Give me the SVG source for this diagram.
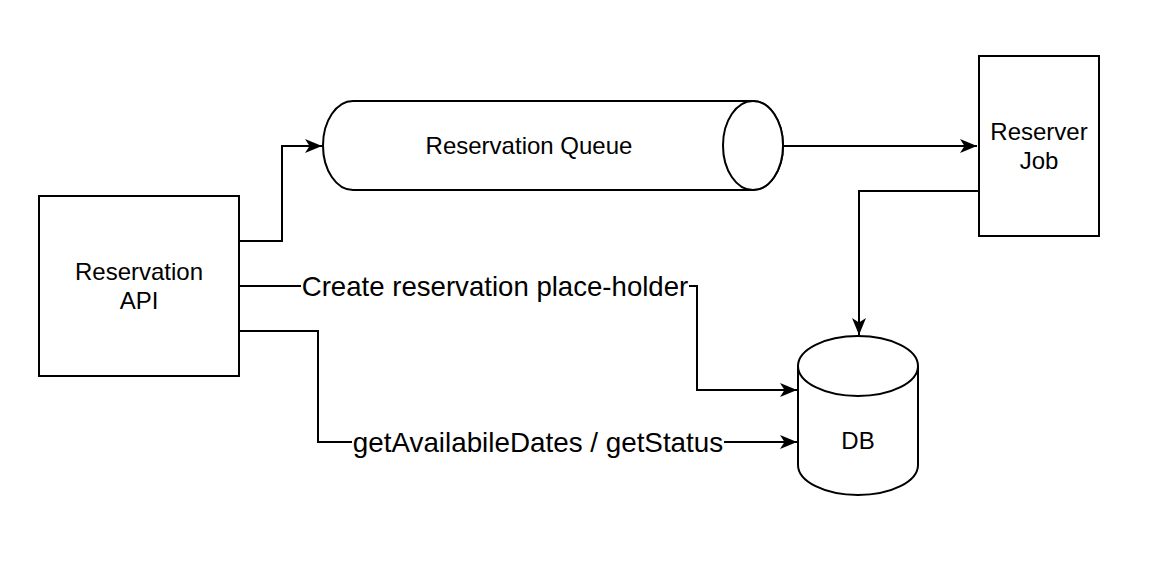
<svg xmlns="http://www.w3.org/2000/svg" width="1156" height="570" viewBox="0 0 1156 570">
<style>
.node{fill:#fff;stroke:#000;stroke-width:2}
.edge{fill:none;stroke:#000;stroke-width:2}
.t{font-family:"Liberation Sans",Arial,Helvetica,sans-serif;font-size:24px;fill:#000;text-anchor:middle}
.lbl{font-family:"Liberation Sans",Arial,Helvetica,sans-serif;font-size:27.6px;fill:#000;text-anchor:middle}
</style>
<defs>
<marker id="arr" markerUnits="userSpaceOnUse" markerWidth="18" markerHeight="16" refX="17" refY="7" orient="auto">
<path d="M0,0 L17,7 L0,14 L4.5,7 Z" fill="#000" stroke="none"/>
</marker>
</defs>
<rect width="1156" height="570" fill="#fff"/>
<g id="connectors">
<path class="edge" d="M239,241 H282 V146 H322" marker-end="url(#arr)"/>
<path class="edge" d="M783,146 H977" marker-end="url(#arr)"/>
<path class="edge" d="M978,191 H859 V335" marker-end="url(#arr)"/>
<path class="edge" d="M239,286 H697 V390 H797" marker-end="url(#arr)"/>
<path class="edge" d="M239,331 H318 V442 H797" marker-end="url(#arr)"/>
<g id="edge-labels">
<rect x="301" y="272" width="388" height="30" fill="#fff"/>
<text class="lbl" x="495" y="296">Create reservation place-holder</text>
<rect x="352" y="428" width="372" height="30" fill="#fff"/>
<text class="lbl" x="538" y="452" style="font-size:27.8px">getAvailabileDates / getStatus</text>
</g>
</g>
<g id="reservation-api">
<rect class="node" x="39" y="196" width="200" height="180"/>
<text class="t" x="139" y="280">Reservation</text>
<text class="t" x="139" y="309">API</text>
</g>
<g id="reservation-queue">
<path class="node" d="M353,101 H753 A30,44.5 0 0 1 753,190 H353 A30,44.5 0 0 1 353,101 Z"/>
<ellipse class="node" cx="753" cy="145.5" rx="30" ry="44.5"/>
<text class="t" x="529" y="154">Reservation Queue</text>
</g>
<g id="reserver-job">
<rect class="node" x="979" y="56" width="120" height="180"/>
<text class="t" x="1039" y="140">Reserver</text>
<text class="t" x="1039" y="169">Job</text>
</g>
<g id="db">
<path class="node" d="M798,366 A60,30 0 0 1 918,366 V465 A60,30 0 0 1 798,465 Z"/>
<path class="node" d="M798,366 A60,30 0 0 0 918,366" fill="none"/>
<text class="t" x="858" y="449">DB</text>
</g>
</svg>
